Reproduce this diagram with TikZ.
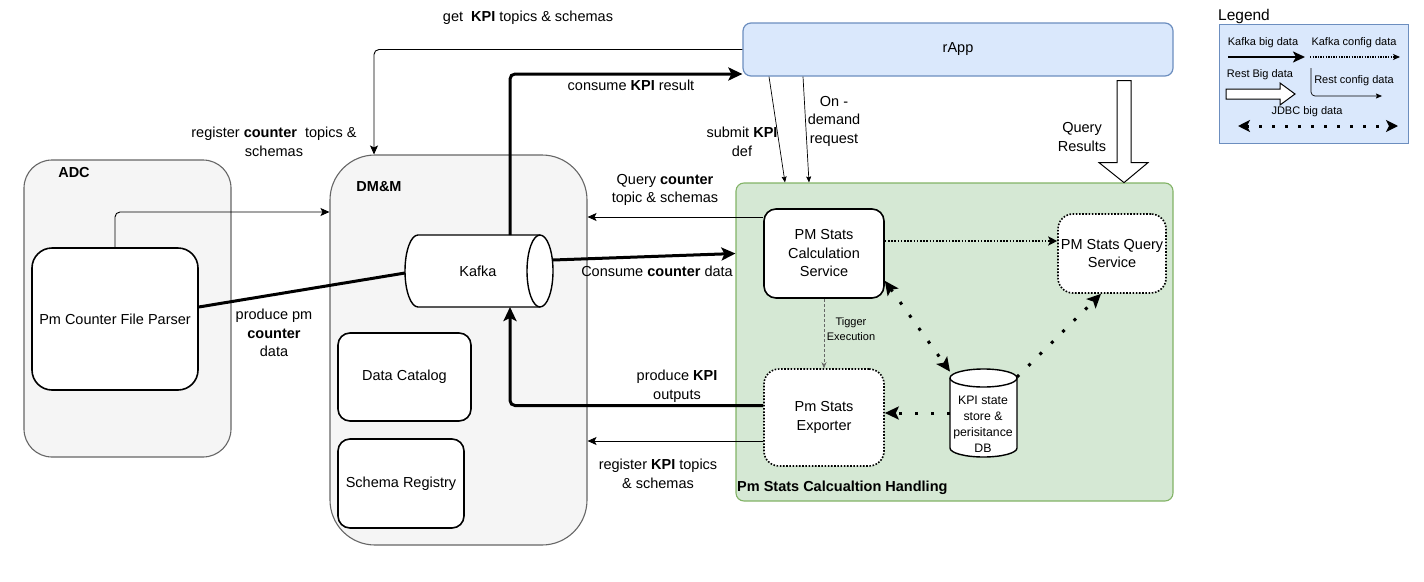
\documentclass[tikz,border=0pt]{standalone}
\usepackage{fontspec}
\setmainfont{Liberation Sans}
\usetikzlibrary{arrows.meta}
\definecolor{grpfill}{HTML}{F5F5F5}
\definecolor{grpdraw}{HTML}{666666}
\definecolor{appfill}{HTML}{DAE8FC}
\definecolor{appdraw}{HTML}{6C8EBF}
\definecolor{pmfill}{HTML}{D5E8D4}
\definecolor{pmdraw}{HTML}{82B366}
\begin{document}
\begin{tikzpicture}[x=1pt,y=-1pt,
    font=\fontsize{14.5}{18.5}\selectfont,
    groupbox/.style={draw=grpdraw,fill=grpfill,line width=1.1pt,rounded corners=#1},
    svcbox/.style={draw,fill=white,line width=1.6pt,rounded corners=#1,align=center},
    dotbox/.style={draw,fill=white,line width=1.6pt,dash pattern=on 1.6pt off 1.6pt,rounded corners=15pt,align=center},
    cylframe/.style={inner sep=0pt,outer sep=0pt},
    cylbody/.style={draw,fill=white,line width=1.4pt},
    lbl/.style={align=center,inner sep=0pt},
    smalllbl/.style={align=center,inner sep=0pt,font=\fontsize{11}{14.5}\selectfont},
    restflow/.style={line width=0.9pt,-{Stealth[length=9pt,width=8pt,inset=2pt]}},
    restsmall/.style={line width=0.7pt,-{Stealth[length=6pt,width=5pt,inset=1pt]}},
    kafkaline/.style={line width=3pt},
    kafkaflow/.style={line width=3pt,-{Stealth[length=14pt,width=13pt,inset=3pt]}},
    cfgflow/.style={line width=1.6pt,dash pattern=on 1.6pt off 1.6pt,-{Stealth[length=9pt,width=9pt,inset=2pt]}},
    jdbcflow/.style={line width=3pt,dash pattern=on 3pt off 13pt},
    jtip/.tip={Stealth[length=14pt,width=13pt,inset=3pt]},
    trigflow/.style={draw=grpdraw,line width=0.8pt,dash pattern=on 3pt off 2pt,-{Stealth[length=6pt,width=5pt]}},
    hollow/.style={draw,fill=white,line width=1pt,line join=miter}]
\useasboundingbox (0,0) rectangle (1424,581);

\node[groupbox=28pt,minimum width=207pt,minimum height=297pt] (adc) at (127.5,308.5) {};
\node[lbl] (adclbl) at (74,173) {\bfseries ADC};
\node[svcbox=20pt,minimum width=166pt,minimum height=142pt] (parser) at (115,319) {Pm Counter File Parser};

\node[groupbox=45pt,minimum width=257pt,minimum height=390pt] (dmm) at (458.5,350) {};
\node[lbl] (dmmlbl) at (379,187) {\bfseries DM\&M};
\node[cylframe,minimum width=148pt,minimum height=72pt] (kafka) at (479,271) {};
\draw[cylbody] ([xshift=13pt]kafka.north west) -- ([xshift=-13pt]kafka.north east)
  arc[start angle=90,end angle=-90,x radius=13pt,y radius=36pt]
  -- ([xshift=13pt]kafka.south west)
  arc[start angle=270,end angle=90,x radius=13pt,y radius=36pt] -- cycle;
\draw[line width=1.4pt] ([xshift=-13pt]kafka.north east) arc[start angle=90,end angle=270,x radius=13pt,y radius=36pt];
\node[lbl] (kafkalbl) at (478,271) {Kafka};
\node[svcbox=12pt,minimum width=133pt,minimum height=88pt] (catalog) at (404.5,377) {Data Catalog};
\node[svcbox=12pt,minimum width=126pt,minimum height=89pt] (registry) at (401,483.5) {Schema Registry};

\node[draw=appdraw,fill=appfill,line width=1.2pt,rounded corners=8pt,minimum width=430pt,minimum height=53pt] (rapp) at (958,49.5) {rApp};

\node[draw=pmdraw,fill=pmfill,line width=1.1pt,rounded corners=8pt,minimum width=437pt,minimum height=318pt] (pmsch) at (954.5,342) {};
\node[lbl,anchor=west] (pmschlbl) at (737,488) {\bfseries Pm Stats Calcualtion Handling};
\node[svcbox=12pt,minimum width=120pt,minimum height=89pt] (calc) at (824,253.5) {PM Stats\\Calculation\\Service};
\node[dotbox,minimum width=108pt,minimum height=79pt,inner sep=2pt] (query) at (1112,253.5) {PM Stats Query\\Service};
\node[dotbox,minimum width=120pt,minimum height=97pt] (exporter) at (824,417.5) {Pm Stats\\Exporter};
\node[cylframe,minimum width=67pt,minimum height=88pt] (db) at (983.5,413) {};
\draw[cylbody] ([yshift=-9pt]db.north west) -- ([yshift=9pt]db.south west)
  arc[start angle=180,end angle=360,x radius=33.5pt,y radius=9pt]
  -- ([yshift=-9pt]db.north east)
  arc[start angle=0,end angle=180,x radius=33.5pt,y radius=9pt] -- cycle;
\draw[line width=1.4pt] ([yshift=-9pt]db.north west) arc[start angle=180,end angle=360,x radius=33.5pt,y radius=9pt];
\node[lbl,font=\fontsize{12.3}{16}\selectfont] (dblbl) at (983,424) {KPI state\\store \&\\perisitance\\DB};

\coordinate (qc) at ([yshift=36.5pt]calc.west);
\coordinate (rk) at ([yshift=-23.5pt]exporter.west);
\coordinate (cq) at ([yshift=12.5pt]calc.east);
\coordinate (qrtop) at ([xshift=166pt]rapp.south);

\draw[restflow,rounded corners=5pt] (parser.north) |- ([yshift=138pt]dmm.west);
\draw[restflow,rounded corners=5pt] (rapp.west) -| ([xshift=-84.5pt]dmm.north);
\draw[kafkaline] ([yshift=12pt]parser.east) -- ([yshift=-2pt]kafka.west);
\draw[kafkaflow,rounded corners=5pt] ([xshift=31pt]kafka.north) |- ([yshift=-24.5pt]rapp.west);
\draw[kafkaflow] ([yshift=11pt]kafka.east) -- (pmsch.west |- calc.center);
\draw[kafkaflow,rounded corners=5pt] ([yshift=12pt]exporter.west) -| ([xshift=31pt]kafka.south);
\draw[restflow] (qc) -- (qc -| dmm.east);
\draw[restflow] (rk) -- (rk -| dmm.east);
\draw[restsmall] ([xshift=-189pt]rapp.south) -- ([xshift=-169.5pt]pmsch.north);
\draw[restsmall] ([xshift=-155pt]rapp.south) -- ([xshift=-145.5pt]pmsch.north);
\draw[hollow] (qrtop) ++(-7,4) -- ++(0,82) -- ++(-18,0) -- ++(25,20) -- ++(24,-20) -- ++(-17,0) -- ++(0,-82) -- cycle;
\draw[cfgflow] (cq) -- (cq -| query.west);
\draw[trigflow] (calc.south) -- (exporter.north);
\draw[jdbcflow,jtip-jtip] ([yshift=18pt]calc.south east) -- (db.129);
\draw[jdbcflow,-jtip] (db.47) -- ([xshift=-11pt]query.south);
\draw[jdbcflow,-jtip] (db.west) -- (db.west -| exporter.east);

\node[lbl] (getlbl) at (528,18) {get \ \textbf{KPI} topics \& schemas};
\node[lbl] (reglbl) at (274,142) {register \textbf{counter} \ topics \&\\schemas};
\node[lbl] (consumelbl) at (631,85) {consume \textbf{KPI} result};
\node[lbl] (submitlbl) at (742,142) {submit \textbf{KPI}\\def};
\node[lbl] (demandlbl) at (834,121) {On -\\demand\\request};
\node[lbl] (resultlbl) at (1082,137) {Query\\Results};
\node[lbl] (qcountlbl) at (665,190) {Query \textbf{counter}\\topic \& schemas};
\node[lbl] (ccountlbl) at (657,271) {Consume \textbf{counter} data};
\node[lbl] (outlbl) at (677,386) {produce \textbf{KPI}\\outputs};
\node[lbl] (regkpilbl) at (658,474) {register \textbf{KPI} topics\\\& schemas};
\node[lbl] (prodlbl) at (274,333) {produce pm\\\textbf{counter}\\data};
\node[smalllbl] (triglbl) at (851,329) {Tigger\\Execution};

\node[lbl] (legendttl) at (1244,16) {\fontsize{15.5}{18}\selectfont Legend};
\node[draw=appdraw,fill=appfill,line width=0.8pt,minimum width=189pt,minimum height=119pt] (legend) at (1313.5,83.5) {};
\node[smalllbl] (kbiglbl) at (1263,43) {Kafka big data};
\node[smalllbl] (kcfglbl) at (1354,43) {Kafka config data};
\node[smalllbl] (rbiglbl) at (1260,75) {Rest Big data};
\node[smalllbl] (rcfglbl) at (1354,81) {Rest config data};
\node[smalllbl] (jdbclbl) at (1307,112) {JDBC big data};
\coordinate (kb1) at (1228,57);
\coordinate (kb2) at (1305,57);
\coordinate (kc1) at (1310,57);
\coordinate (kc2) at (1400,57);
\coordinate (rc1) at (1311,68);
\coordinate (rc2) at (1382,96);
\coordinate (jd1) at (1238,126);
\coordinate (jd2) at (1398,126);
\coordinate (rb1) at (1226,89);
\draw[line width=2.5pt,-{Stealth[length=12pt,width=11pt,inset=3pt]}] (kb1) -- (kb2);
\draw[line width=1.3pt,dash pattern=on 1.3pt off 1.3pt,-{Stealth[length=7pt,width=6pt,inset=2pt]}] (kc1) -- (kc2);
\draw[line width=0.7pt,rounded corners=4pt,-{Stealth[length=6pt,width=5pt,inset=1pt]}] (rc1) |- (rc2);
\draw[line width=3pt,dash pattern=on 3pt off 10pt,{Stealth[length=12pt,width=12pt,inset=3pt]}-{Stealth[length=12pt,width=12pt,inset=3pt]}] (jd1) -- (jd2);
\draw[hollow] (rb1) -- ++(54,0) -- ++(0,-6) -- ++(15,11) -- ++(-15,11) -- ++(0,-6) -- ++(-54,0) -- cycle;
\end{tikzpicture}
\end{document}
